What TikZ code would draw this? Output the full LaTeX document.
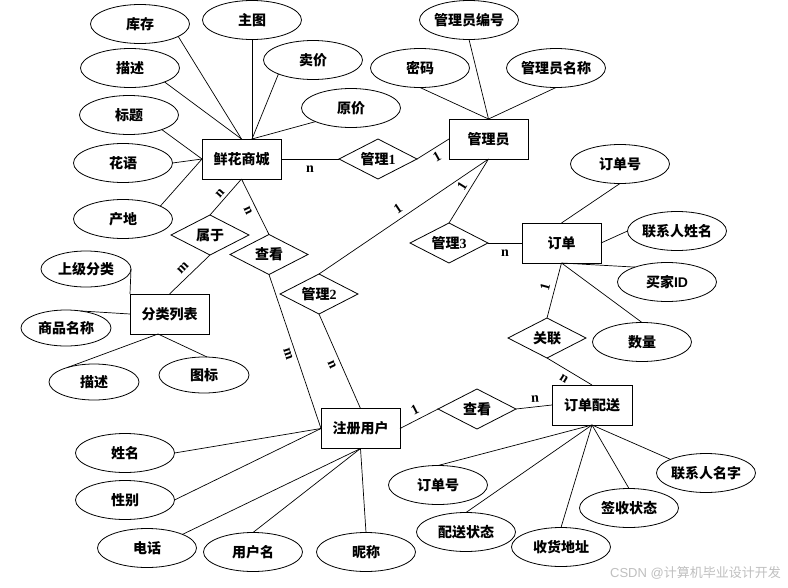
\documentclass[tikz,border=0pt]{standalone}
\usepackage{fontspec}
\setmainfont{Liberation Serif}
\newfontfamily\cjkfont{Noto Sans CJK SC}
\newfontfamily\arialfont{Liberation Sans}
\usetikzlibrary{calc,shapes.geometric}
\tikzset{
  zhfont/.style={font=\fontsize{14}{16}\selectfont\cjkfont\bfseries},
  attr/.style={ellipse, draw, line width=0.8pt, minimum width=99pt, minimum height=39pt, inner sep=0pt, outer sep=0pt, zhfont},
  sattr/.style={attr, minimum width=90pt, minimum height=36pt},
  ent/.style={rectangle, draw, line width=1pt, minimum width=79pt, minimum height=40pt, inner sep=0pt, outer sep=0pt, zhfont},
  rel/.style={diamond, aspect=2, draw, line width=0.8pt, minimum width=78pt, minimum height=40pt, inner sep=0pt, outer sep=0pt, zhfont},
  lnk/.style={line width=0.7pt},
  card/.style={font=\fontsize{14}{16}\selectfont\rmfamily\bfseries, inner sep=0pt},
}
\begin{document}
\begin{tikzpicture}[x=1pt,y=-1pt]
\fill[white] (0,0) rectangle (788,587);
\useasboundingbox (0,0) rectangle (788,587);

% entities
\node[ent] (xh) at (241.5,159) {鲜花商城};
\node[ent] (gly) at (488.5,139) {管理员};
\node[ent] (dd) at (561.5,243) {订单};
\node[ent] (fl) at (169.5,314) {分类列表};
\node[ent] (zc) at (360.5,428.5) {注册用户};
\node[ent, minimum width=80pt] (ps) at (592,405) {订单配送};

% relationships
\node[rel] (gl1) at (378,159) {管理{\rmfamily 1}};
\node[rel] (gl2) at (319,294) {管理{\rmfamily 2}};
\node[rel] (gl3) at (449,243) {管理{\rmfamily 3}};
\node[rel] (sy) at (210,235) {属于};
\node[rel] (ck1) at (269,254.5) {查看};
\node[rel] (ck2) at (477,409) {查看};
\node[rel] (gl) at (547,338) {关联};

% attributes
\node[attr] (ku) at (140,24) {库存};
\node[attr] (zt) at (252,20) {主图};
\node[attr] (mj) at (313,60) {卖价};
\node[attr] (ms) at (130,68) {描述};
\node[attr] (yj) at (351,108) {原价};
\node[attr] (bt) at (129,115) {标题};
\node[attr] (hy) at (123,163) {花语};
\node[attr] (cd) at (123,219) {产地};
\node[attr] (bh) at (469,20) {管理员编号};
\node[attr] (mm) at (420,68) {密码};
\node[attr] (mc) at (556,68) {管理员名称};
\node[attr] (ddh) at (620,164) {订单号};
\node[attr] (lxm) at (677,231) {联系人姓名};
\node[attr] (mjid) at (667,282) {买家{\arialfont ID}};
\node[attr] (sl) at (642,342) {数量};
\node[sattr] (sj) at (86,269) {上级分类};
\node[sattr] (spmc) at (66,328) {商品名称};
\node[sattr] (ms2) at (94,382) {描述};
\node[sattr] (tb) at (204,375) {图标};
\node[attr] (xm) at (125,453) {姓名};
\node[attr] (xb) at (125,500) {性别};
\node[attr] (dh) at (147,548) {电话};
\node[attr] (yhm) at (253,552) {用户名};
\node[attr] (nc) at (366,552) {昵称};
\node[attr] (ddh2) at (438,485) {订单号};
\node[attr] (pszt) at (466,532) {配送状态};
\node[attr] (shdz) at (561,547) {收货地址};
\node[attr] (qszt) at (629,508) {签收状态};
\node[attr] (lxmz) at (706,473) {联系人名字};

% helper coordinates
\coordinate (xhn) at ($(xh.north)+(10.5,0)$);
\coordinate (fls) at ($(fl.south)+(-11.5,0)$);

% 鲜花商城 attributes
\draw[lnk] (ku.-18) -- (xh.north);
\draw[lnk] (ms.-22) -- (xh.north);
\draw[lnk] (zt.south) -- (xhn);
\draw[lnk] (mj.-158) -- (xhn);
\draw[lnk] (yj.-159) -- (xhn);
\draw[lnk] (bt.-24) -- (xh.west);
\draw[lnk] (hy.east) -- (xh.west);
\draw[lnk] (cd.19) -- (xh.west);

% 管理员 attributes
\draw[lnk] (bh.south) -- (gly.north);
\draw[lnk] (mm.south) -- (gly.north);
\draw[lnk] (mc.south) -- (gly.north);

% 订单 attributes
\draw[lnk] (ddh.south) -- (dd.north);
\draw[lnk] (lxm.west) -- (dd.east);
\draw[lnk] (mjid.155) -- (dd.south);
\draw[lnk] (sl.north) -- (dd.south);

% 分类列表 attributes
\draw[lnk] (sj.east) -- (fl.north west);
\draw[lnk] (spmc.50) -- (fl.west);
\draw[lnk] (ms2.151) -- (fls);
\draw[lnk] (tb.80) -- (fls);

% 注册用户 attributes
\draw[lnk] (xm.east) -- (zc.west);
\draw[lnk] (xb.east) -- (zc.west);
\draw[lnk] (dh.21) -- (zc.south);
\draw[lnk] (yhm.north) -- (zc.south);
\draw[lnk] (nc.north) -- (zc.south);

% 订单配送 attributes
\draw[lnk] (ddh2.north) -- (ps.south);
\draw[lnk] (pszt.north) -- (ps.south);
\draw[lnk] (shdz.north) -- (ps.south);
\draw[lnk] (qszt.north) -- (ps.south);
\draw[lnk] (lxmz.159) -- (ps.south);

% relationships
\draw[lnk] (xh.east) -- (gl1.west);
\draw[lnk] (gl1.east) -- (gly.west);
\draw[lnk] (gl2.north) -- (gly.south);
\draw[lnk] (gl3.north) -- (gly.south);
\draw[lnk] (gl3.east) -- (dd.west);
\draw[lnk] (xh.south) -- (sy.north);
\draw[lnk] (sy.south) -- (fl.north);
\draw[lnk] (xh.south) -- (ck1.north);
\draw[lnk] (ck1.south) -- (zc.west);
\draw[lnk] (gl2.south) -- (zc.north);
\draw[lnk] (zc.east) -- (ck2.west);
\draw[lnk] (ck2.east) -- (ps.west);
\draw[lnk] (dd.south) -- (gl.north);
\draw[lnk] (gl.south) -- (ps.north);

% cardinalities
\node[card] (c1) at (310,169) {n};
\node[card, rotate=48] (c2) at (220,193) {n};
\node[card, rotate=-65] (c3) at (248,211) {n};
\node[card, rotate=45] (c4) at (183,268) {m};
\node[card, rotate=-72] (c5) at (288,354) {m};
\node[card, rotate=-66] (c6) at (332,365) {n};
\node[card, rotate=34] (c7) at (398,209) {1};
\node[card, rotate=58] (c8) at (462,186) {1};
\node[card, rotate=29] (c9) at (437,157) {1};
\node[card] (c10) at (505,253) {n};
\node[card, rotate=75] (c11) at (545,287) {1};
\node[card, rotate=-32] (c12) at (564,379) {n};
\node[card, rotate=27] (c13) at (415,410) {1};
\node[card, rotate=3] (c14) at (535,399) {n};

% watermark
\node[font=\fontsize{13}{15}\selectfont, text=black!25, anchor=east, inner sep=0pt] (wm) at (781,573) {{\arialfont CSDN @}{\cjkfont 计算机毕业设计开发}};
\end{tikzpicture}
\end{document}
